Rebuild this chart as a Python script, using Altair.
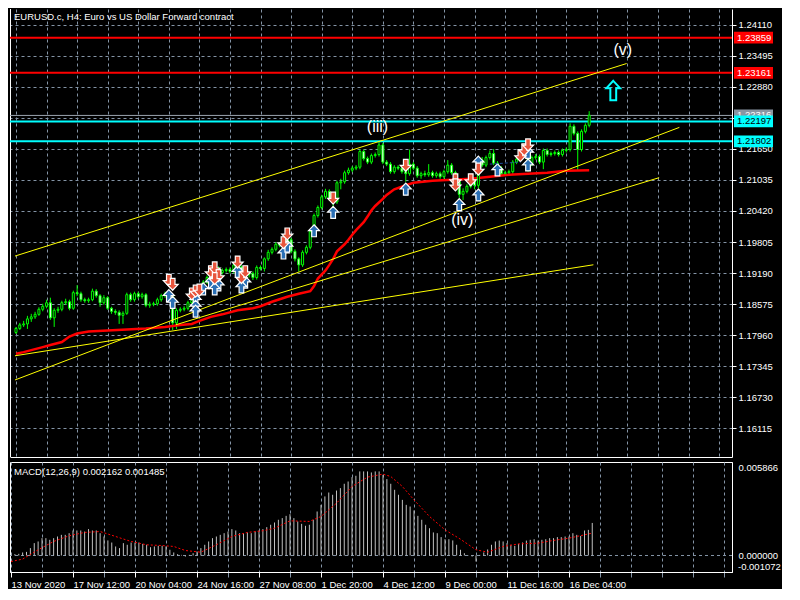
import altair as alt
import pandas as pd

W, H_MAIN, H_MACD = 722, 448, 110
FONT = "Liberation Sans"

title_text = "EURUSD.c, H4:  Euro vs US Dollar Forward contract"
macd_text = "MACD(12,26,9) 0.002162 0.001485"

X_DOM = [-0.2581, 186.0645]
Y_DOM = [1.155397, 1.244274]
M_DOM = [-0.0010953, 0.0062044]

first_open = 1.1801
close = [1.1809, 1.1816, 1.1818, 1.1828, 1.1832, 1.1837, 1.1847, 1.1853, 1.1860, 1.1830,
         1.1845, 1.1847, 1.1860, 1.1862, 1.1849, 1.1880, 1.1878, 1.1866, 1.1864, 1.1866,
         1.1883, 1.1874, 1.1860, 1.1870, 1.1849, 1.1843, 1.1841, 1.1835, 1.1839, 1.1876,
         1.1866, 1.1878, 1.1872, 1.1876, 1.1855, 1.1857, 1.1858, 1.1866, 1.1874, 1.1878,
         1.1872, 1.1820, 1.1845, 1.1847, 1.1849, 1.1860, 1.1876, 1.1878, 1.1889, 1.1901,
         1.1910, 1.1914, 1.1928, 1.1920, 1.1924, 1.1926, 1.1922, 1.1935, 1.1931, 1.1908,
         1.1916, 1.1918, 1.1910, 1.1930, 1.1928, 1.1947, 1.1960, 1.1966, 1.1976, 1.1974,
         1.1979, 1.1985, 1.1962, 1.1947, 1.1935, 1.1960, 1.1970, 1.2001, 1.2033, 1.2049,
         1.2070, 1.2081, 1.2066, 1.2060, 1.2098, 1.2100, 1.2118, 1.2123, 1.2127, 1.2129,
         1.2160, 1.2146, 1.2139, 1.2152, 1.2154, 1.2173, 1.2139, 1.2135, 1.2120, 1.2129,
         1.2127, 1.2120, 1.2116, 1.2135, 1.2127, 1.2112, 1.2116, 1.2114, 1.2118, 1.2112,
         1.2116, 1.2110, 1.2120, 1.2133, 1.2118, 1.2100, 1.2075, 1.2081, 1.2091, 1.2102,
         1.2093, 1.2143, 1.2133, 1.2148, 1.2156, 1.2137, 1.2127, 1.2116, 1.2118, 1.2120,
         1.2139, 1.2145, 1.2158, 1.2166, 1.2135, 1.2148, 1.2150, 1.2139, 1.2162, 1.2154,
         1.2156, 1.2158, 1.2154, 1.2162, 1.2164, 1.2210, 1.2196, 1.2164, 1.2200, 1.2212,
         1.2232]
high = [1.1812, 1.1820, 1.1824, 1.1834, 1.1838, 1.1842, 1.1851, 1.1858, 1.1866, 1.1870,
        1.1849, 1.1852, 1.1864, 1.1868, 1.1866, 1.1884, 1.1895, 1.1882, 1.1870, 1.1870,
        1.1888, 1.1887, 1.1877, 1.1875, 1.1873, 1.1852, 1.1847, 1.1845, 1.1843, 1.1880,
        1.1880, 1.1882, 1.1882, 1.1880, 1.1879, 1.1862, 1.1862, 1.1870, 1.1878, 1.1882,
        1.1884, 1.1876, 1.1849, 1.1851, 1.1853, 1.1864, 1.1880, 1.1884, 1.1893, 1.1905,
        1.1914, 1.1919, 1.1934, 1.1932, 1.1928, 1.1930, 1.1930, 1.1940, 1.1942, 1.1934,
        1.1920, 1.1922, 1.1922, 1.1934, 1.1934, 1.1950, 1.1965, 1.1970, 1.1980, 1.1980,
        1.1995, 1.2008, 1.1989, 1.1966, 1.1950, 1.1964, 1.1974, 1.2005, 1.2037, 1.2053,
        1.2074, 1.2086, 1.2085, 1.2070, 1.2102, 1.2106, 1.2122, 1.2128, 1.2131, 1.2133,
        1.2164, 1.2164, 1.2150, 1.2156, 1.2158, 1.2179, 1.2177, 1.2143, 1.2139, 1.2133,
        1.2133, 1.2131, 1.2124, 1.2164, 1.2139, 1.2131, 1.2120, 1.2122, 1.2135, 1.2122,
        1.2120, 1.2120, 1.2124, 1.2143, 1.2137, 1.2122, 1.2104, 1.2087, 1.2095, 1.2106,
        1.2106, 1.2147, 1.2149, 1.2152, 1.2162, 1.2165, 1.2141, 1.2131, 1.2122, 1.2124,
        1.2143, 1.2149, 1.2162, 1.2171, 1.2170, 1.2152, 1.2155, 1.2154, 1.2166, 1.2166,
        1.2160, 1.2162, 1.2162, 1.2166, 1.2168, 1.2216, 1.2214, 1.2200, 1.2204, 1.2216,
        1.2240]
low = [1.1798, 1.1806, 1.1812, 1.1808, 1.1822, 1.1828, 1.1834, 1.1843, 1.1849, 1.1826,
       1.1812, 1.1840, 1.1843, 1.1856, 1.1845, 1.1846, 1.1873, 1.1862, 1.1860, 1.1860,
       1.1863, 1.1870, 1.1852, 1.1856, 1.1846, 1.1838, 1.1836, 1.1818, 1.1818, 1.1836,
       1.1862, 1.1862, 1.1868, 1.1868, 1.1851, 1.1850, 1.1853, 1.1854, 1.1862, 1.1870,
       1.1866, 1.1806, 1.1808, 1.1841, 1.1843, 1.1845, 1.1856, 1.1870, 1.1874, 1.1885,
       1.1897, 1.1905, 1.1910, 1.1916, 1.1916, 1.1920, 1.1918, 1.1918, 1.1927, 1.1904,
       1.1903, 1.1910, 1.1905, 1.1906, 1.1924, 1.1922, 1.1943, 1.1956, 1.1962, 1.1970,
       1.1970, 1.1975, 1.1958, 1.1942, 1.1922, 1.1931, 1.1956, 1.1966, 1.1997, 1.2029,
       1.2045, 1.2066, 1.2062, 1.2045, 1.2056, 1.2085, 1.2096, 1.2114, 1.2119, 1.2123,
       1.2125, 1.2142, 1.2135, 1.2135, 1.2148, 1.2150, 1.2135, 1.2131, 1.2116, 1.2116,
       1.2123, 1.2116, 1.2100, 1.2112, 1.2123, 1.2108, 1.2106, 1.2110, 1.2110, 1.2108,
       1.2108, 1.2106, 1.2106, 1.2116, 1.2114, 1.2092, 1.2068, 1.2064, 1.2077, 1.2087,
       1.2085, 1.2087, 1.2129, 1.2129, 1.2144, 1.2133, 1.2123, 1.2112, 1.2112, 1.2114,
       1.2116, 1.2135, 1.2141, 1.2154, 1.2120, 1.2131, 1.2144, 1.2135, 1.2125, 1.2150,
       1.2150, 1.2152, 1.2150, 1.2150, 1.2158, 1.2160, 1.2192, 1.2123, 1.2160, 1.2196,
       1.2208]

ma_idx = [0, 2, 4, 7, 9, 12, 14, 16, 19, 24, 29, 34, 39, 43, 46, 48, 51, 54, 58, 62,
          64, 67, 71, 74, 77, 78, 79, 81, 82, 83, 84, 86, 87, 88, 89, 91, 92, 93, 94, 96,
          97, 99, 102, 104, 109, 114, 119, 124, 129, 134, 139, 144, 150]
ma_val = [1.1759, 1.1762, 1.1766, 1.1772, 1.1776, 1.1782, 1.1793, 1.1799, 1.1803, 1.1805,
          1.1807, 1.1809, 1.1812, 1.1816, 1.1818, 1.1824, 1.1832, 1.1837, 1.1845, 1.1849,
          1.1853, 1.1862, 1.1872, 1.1878, 1.1883, 1.1893, 1.1908, 1.1924, 1.1935, 1.1947,
          1.1962, 1.1976, 1.1985, 1.1995, 1.2004, 1.2020, 1.2031, 1.2043, 1.2052, 1.2066,
          1.2074, 1.2085, 1.2093, 1.2098, 1.2102, 1.2104, 1.2106, 1.2110, 1.2114, 1.2116,
          1.2118, 1.2122, 1.2123]

# MACD main values, in units of 0.001
macd_hist = [0.04, 0.09, 0.11, 0.20, 0.24, 0.49, 0.82, 0.93, 1.15, 1.15,
             1.04, 1.15, 1.26, 1.37, 1.37, 1.48, 1.66, 1.66, 1.66, 1.59,
             1.75, 1.66, 1.66, 1.48, 1.26, 1.00, 0.86, 0.60, 0.49, 0.82,
             0.71, 0.86, 0.86, 0.86, 0.77, 0.71, 0.55, 0.60, 0.64, 0.64,
             0.60, 0.38, 0.20, 0.09, 0.04, -0.07, 0.04, 0.15, 0.27, 0.49,
             0.71, 0.93, 1.15, 1.26, 1.37, 1.48, 1.59, 1.75, 1.66, 1.48,
             1.48, 1.53, 1.48, 1.59, 1.66, 1.75, 1.88, 2.04, 2.19, 2.37,
             2.48, 2.63, 2.74, 2.48, 2.26, 2.10, 1.97, 2.04, 2.37, 2.92,
             3.36, 3.92, 4.18, 4.03, 4.31, 4.47, 4.76, 4.91, 5.20, 5.29,
             5.58, 5.58, 5.58, 5.51, 5.58, 5.58, 5.35, 5.07, 4.76, 4.36,
             4.03, 3.69, 3.36, 3.25, 2.99, 2.63, 2.37, 2.04, 1.81, 1.53,
             1.48, 1.22, 1.08, 1.08, 1.00, 0.71, 0.38, 0.15, -0.02, -0.07,
             -0.40, 0.04, 0.20, 0.40, 0.71, 0.93, 0.99, 0.93, 0.82, 0.71,
             0.64, 0.77, 0.86, 0.99, 1.04, 1.08, 0.99, 1.04, 1.08, 1.15,
             1.15, 1.22, 1.22, 1.26, 1.26, 1.48, 1.37, 1.30, 1.66, 1.70,
             2.16]
sig_idx = [0, 3, 7, 11, 15, 19, 23, 27, 31, 35, 39, 42, 45, 49, 53, 57, 61, 65, 68, 72,
           77, 80, 84, 88, 92, 96, 98, 101, 104, 108, 112, 116, 120, 123, 127, 131, 136,
           140, 144, 150]
sig_val = [-0.40, -0.24, 0.38, 0.93, 1.31, 1.53, 1.59, 1.26, 0.93, 0.71, 0.66, 0.60, 0.33,
           0.22, 0.71, 1.26, 1.53, 1.64, 1.81, 2.30, 2.26, 2.59, 3.47, 4.58, 5.20, 5.40,
           5.24, 4.58, 3.69, 2.59, 1.70, 1.08, 0.38, 0.22, 0.60, 0.77, 0.82, 1.00, 1.15,
           1.485]

price_ticks = [1.16115, 1.16730, 1.17345, 1.17960, 1.18575, 1.19190, 1.19805,
               1.20420, 1.21035, 1.21650, 1.22265, 1.22880, 1.23495, 1.24110]
hidden_price_label = 1.22265   # fully covered by the price-line boxes in the source
macd_ticks = [0.005866, 0.0]
macd_min_label = -0.001072
date_tick_idx = [0, 16, 32, 48, 64, 80, 96, 112, 128, 144]
date_labels = ["13 Nov 2020", "17 Nov 12:00", "20 Nov 04:00", "24 Nov 16:00",
               "27 Nov 08:00", "1 Dec 20:00", "4 Dec 12:00", "9 Dec 00:00",
               "11 Dec 16:00", "16 Dec 04:00"]
grid_idx = list(range(0, 185, 8))

level_red = [1.23859, 1.23161]
level_cyan = [1.22197, 1.21802]
level_gray = [1.22316]

trend_x1 = [-0.25, -0.25, -0.25, 41.8]
trend_y1 = [1.19526, 1.17068, 1.17548, 1.18162]
trend_x2 = [159.8, 173.6, 151.1, 168.3]
trend_y2 = [1.23346, 1.22079, 1.19353, 1.21081]

up_idx = [40, 41, 47, 47, 47, 49, 51, 53, 52, 58, 60, 59, 70, 71, 78, 83, 102, 116,
          121, 121, 126, 134, 134]
up_val = [1.18738, 1.18604, 1.18662, 1.18527, 1.18431, 1.18873, 1.19007, 1.18950,
          1.18873, 1.19218, 1.19007, 1.18911, 1.19583, 1.19718, 1.20025, 1.20390,
          1.20850, 1.20543, 1.21388, 1.20735, 1.21234, 1.21580, 1.21330]
dn_idx = [40, 41, 46, 47, 48, 51, 52, 53, 52, 58, 59, 60, 70, 71, 83, 102, 115, 115,
          119, 121, 132, 133, 134]
dn_val = [1.19046, 1.18969, 1.18777, 1.18834, 1.18854, 1.19218, 1.19295, 1.19142,
          1.19084, 1.19410, 1.19103, 1.19218, 1.19794, 1.19967, 1.20678, 1.21330,
          1.21042, 1.20940, 1.21042, 1.21254, 1.21522, 1.21638, 1.21734]

wave_text = ["(iii)", "(iv)", "(v)"]
wave_idx = [94.6, 116.8, 158.8]
wave_val = [1.22079, 1.20236, 1.23615]
cyan_arrow_idx = [156.3]
cyan_arrow_val = [1.22809]
dash_idx = [124, 132]
dash_val = [1.2135, 1.2139]

# ---------------------------------------------------------------- data frames
opens = [first_open] + close[:-1]
n = len(close)
df_c = pd.DataFrame({"x": list(range(n)), "o": opens, "h": high, "l": low, "c": close})
df_c["bull"] = df_c["c"] >= df_c["o"]
df_ma = pd.DataFrame({"x": ma_idx, "y": ma_val})
df_tr = pd.DataFrame({"x": trend_x1, "y": trend_y1, "x2": trend_x2, "y2": trend_y2})
df_up = pd.DataFrame({"x": up_idx, "y": up_val})
df_dn = pd.DataFrame({"x": dn_idx, "y": dn_val})
df_wave = pd.DataFrame({"x": wave_idx, "y": wave_val, "t": wave_text})
df_carrow = pd.DataFrame({"x": cyan_arrow_idx, "y": cyan_arrow_val})
df_dash = pd.DataFrame({"x": dash_idx, "y": dash_val})
df_lv = pd.DataFrame({
    "y": level_red + level_cyan + level_gray,
    "col": ["#ff0000"] * 2 + ["#00ffff"] * 2 + ["#9aa4ae"],
    "w": [2, 2, 2, 2, 1],
})
df_boxA = pd.DataFrame({
    "y": level_red + level_gray,
    "t": [f"{v:.5f}" for v in level_red + level_gray],
    "fill": ["#ff0000", "#ff0000", "#8a96a3"],
    "tc": ["white", "white", "white"],
})
df_boxB = pd.DataFrame({
    "y": level_cyan,
    "t": [f"{v:.5f}" for v in level_cyan],
    "fill": ["#00ffff", "#00ffff"],
    "tc": ["black", "black"],
})
df_macd = pd.DataFrame({"x": list(range(n)), "v": [v / 1000 for v in macd_hist]})
df_sig = pd.DataFrame({"x": sig_idx, "v": [v / 1000 for v in sig_val]})
one = pd.DataFrame({"a": [0]})

# ---------------------------------------------------------------- scales / axes
GRID = "#8494a6"
xs = alt.Scale(domain=X_DOM, nice=False, zero=False)
ys = alt.Scale(domain=Y_DOM, nice=False, zero=False)
ms = alt.Scale(domain=M_DOM, nice=False, zero=False)

xa_main = alt.Axis(values=grid_idx, labels=False, ticks=False, grid=True, title=None,
                   domainColor="white", gridColor=GRID, gridDash=[3, 3], gridOpacity=1)
ya_main = alt.Axis(orient="right", values=price_ticks, format=".5f", grid=True,
                   tickSize=4, labelPadding=2, title=None, domainColor="white",
                   gridColor=GRID, gridDash=[3, 3], gridOpacity=1,
                   labelExpr=f"abs(datum.value - {hidden_price_label}) < 0.000001 ? '' : format(datum.value, '.5f')")

label_expr = "''"
for idx, lab in reversed(list(zip(date_tick_idx, date_labels))):
    label_expr = f"datum.value == {idx} ? '{lab}' : ({label_expr})"
major_test = "datum.value % 16 == 0 && datum.value <= 144"
xa_macd = alt.Axis(values=grid_idx, labelExpr=label_expr, grid=True, title=None,
                   gridColor=GRID, gridDash=[3, 3], gridOpacity=1,
                   tickSize=5,
                   tickColor={"condition": {"test": major_test, "value": "white"},
                              "value": GRID},
                   labelAlign="left", labelBaseline="top", labelPadding=2,
                   labelFlush=False, labelOverlap=False, domainColor="white")
ya_macd = alt.Axis(orient="right", values=macd_ticks, format=".6f", grid=False,
                   ticks=False, tickSize=0, labelPadding=6, title=None, domainColor="white")


def X(f="x"):
    return alt.X(f"{f}:Q", scale=xs, axis=xa_main)


def Y(f="y"):
    return alt.Y(f"{f}:Q", scale=ys, axis=ya_main)


base = alt.Chart(df_c)

left_border = alt.Chart(one).mark_rule(color="white", strokeWidth=1).encode(x=alt.value(0.5))

levels = alt.Chart(df_lv).mark_rule().encode(
    y=Y("y"),
    color=alt.Color("col:N", scale=None),
    strokeWidth=alt.StrokeWidth("w:Q", scale=None),
)

ma_line = alt.Chart(df_ma).mark_line(color="#ff0000", strokeWidth=2.5).encode(x=X(), y=Y())

wicks = base.mark_rule(color="#00ff00", strokeWidth=1).encode(x=X(), y=Y("l"), y2="h:Q")
bodies = base.mark_bar(size=2, stroke="#00ff00", strokeWidth=1).encode(
    x=X(), y=Y("o"), y2="c:Q",
    fill=alt.condition("datum.bull", alt.value("black"), alt.value("white")),
)

trends = alt.Chart(df_tr).mark_rule(color="#ffff00", strokeWidth=1, clip=True).encode(
    x=X(), y=Y(), x2="x2:Q", y2="y2:Q")

UP_PATH = "M0,-1L0.9,-0.05L0.38,-0.05L0.38,0.95L-0.38,0.95L-0.38,-0.05L-0.9,-0.05Z"
DN_PATH = "M0,1L0.9,0.05L0.38,0.05L0.38,-0.95L-0.38,-0.95L-0.38,0.05L-0.9,0.05Z"
ups = alt.Chart(df_up).mark_point(shape=UP_PATH, filled=True, fill="#2a6fb5", stroke="white",
                                  strokeWidth=1.2, size=150, opacity=1).encode(x=X(), y=Y())
dns = alt.Chart(df_dn).mark_point(shape=DN_PATH, filled=True, fill="#e8553c", stroke="white",
                                  strokeWidth=1.2, size=150, opacity=1).encode(x=X(), y=Y())

dash_line = alt.Chart(df_dash).mark_line(color="#2050a0", strokeDash=[3, 2], strokeWidth=1).encode(
    x=X(), y=Y())

waves = alt.Chart(df_wave).mark_text(font=FONT, fontSize=16, color="white").encode(
    x=X(), y=Y(), text="t:N")

CARROW = "M0,-1L0.7,-0.25L0.3,-0.25L0.3,1L-0.3,1L-0.3,-0.25L-0.7,-0.25Z"
carrow = alt.Chart(df_carrow).mark_point(shape=CARROW, filled=False, color="#00ffff",
                                         strokeWidth=2, size=380, opacity=1).encode(x=X(), y=Y())

title_mark = alt.Chart(one).mark_text(text=title_text, font=FONT, fontSize=9.5, color="white",
                                      align="left", baseline="middle").encode(
    x=alt.value(4), y=alt.value(8))

RECT = "M-1,-0.3L1,-0.3L1,0.3L-1,0.3Z"
boxA = alt.Chart(df_boxA).mark_point(shape=RECT, filled=True, size=1521, opacity=1).encode(
    x=alt.value(W + 21.5), y=Y(), color=alt.Color("fill:N", scale=None))
textA = alt.Chart(df_boxA).mark_text(font=FONT, fontSize=9.5, align="left", baseline="middle").encode(
    x=alt.value(W + 5), y=Y(), text="t:N", color=alt.Color("tc:N", scale=None))
boxB = alt.Chart(df_boxB).mark_point(shape=RECT, filled=True, size=1521, opacity=1).encode(
    x=alt.value(W + 21.5), y=Y(), color=alt.Color("fill:N", scale=None))
textB = alt.Chart(df_boxB).mark_text(font=FONT, fontSize=9.5, align="left", baseline="middle").encode(
    x=alt.value(W + 5), y=Y(), text="t:N", color=alt.Color("tc:N", scale=None))

main = alt.layer(
    wicks, left_border, levels, ma_line, bodies, trends, ups, dns, dash_line,
    waves, carrow, title_mark, boxA, textA, boxB, textB,
).properties(width=W, height=H_MAIN)

# ---------------------------------------------------------------- MACD panel
MX = alt.X("x:Q", scale=xs, axis=xa_macd)
MY = alt.Y("v:Q", scale=ms, axis=ya_macd)

zero_line = alt.Chart(pd.DataFrame({"v": [0.0]})).mark_rule(
    color=GRID, strokeDash=[3, 3], strokeWidth=1).encode(y=MY)
hist = alt.Chart(df_macd).mark_rule(color="#c0c0c0", strokeWidth=1).encode(
    x=MX, y=MY, y2=alt.datum(0))
sig = alt.Chart(df_sig).mark_line(color="#ff0000", strokeDash=[2, 2], strokeWidth=1).encode(
    x=MX, y=MY)
macd_label = alt.Chart(one).mark_text(text=macd_text, font=FONT, fontSize=9.5, color="white",
                                      align="left", baseline="middle").encode(
    x=alt.value(4), y=alt.value(9.5))
min_label = alt.Chart(pd.DataFrame({"v": [macd_min_label],
                                    "t": [f"{macd_min_label:.6f}"]})).mark_text(
    font=FONT, fontSize=9.5, color="white", align="left", baseline="bottom").encode(
    x=alt.value(W + 6), y=MY, text="t:N")

macd = alt.layer(zero_line, hist, sig, macd_label, min_label).properties(
    width=W, height=H_MACD, view=alt.ViewBackground(stroke="white", strokeWidth=1))

chart = alt.vconcat(main, macd, spacing=3).properties(
    background="black", padding=0
).configure_view(strokeWidth=0).configure_axis(
    labelColor="white", labelFont=FONT, labelFontSize=9.5,
    gridColor=GRID, gridDash=[3, 3], gridWidth=1,
    domainColor="white", tickColor="white",
)

chart.save("out.html", embed_options={"renderer": "svg", "actions": False})
